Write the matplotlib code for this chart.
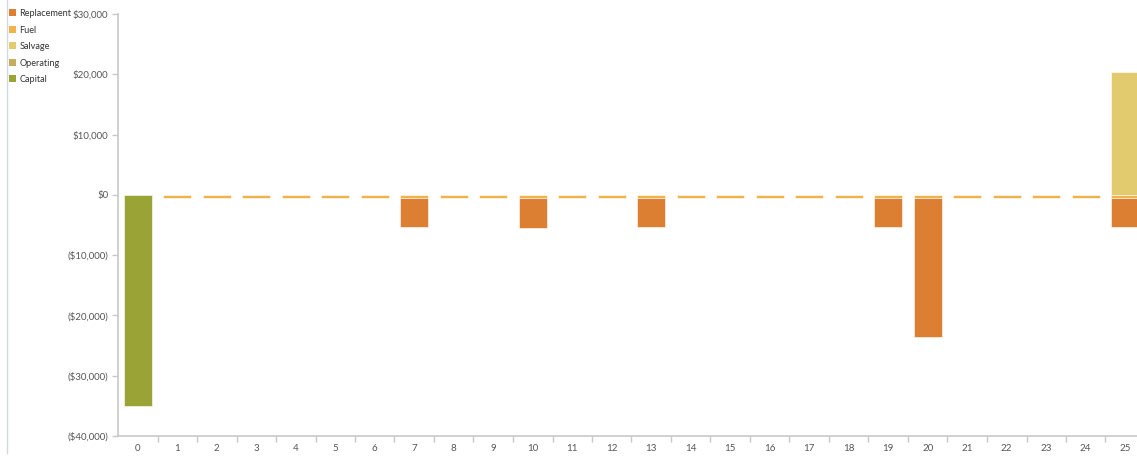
import matplotlib
matplotlib.use("Agg")
import matplotlib.pyplot as plt
import numpy as np
from matplotlib.ticker import FixedLocator, FuncFormatter
from matplotlib.lines import Line2D
from matplotlib.patches import Patch

plt.rcParams['font.family'] = ['Lato', 'DejaVu Sans']

years = list(range(26))
capital = [-35000] + [0] * 25
operating = [0] + [-100] * 25
salvage = [0] * 25 + [20400]
fuel = [0] + [-450] * 25
replacement = [0, 0, 0, 0, 0, 0, 0, -4700, 0, 0, -5000, 0, 0, -4700, 0, 0,
               0, 0, 0, -4700, -23100, 0, 0, 0, 0, -4700]

series_names = ["Capital", "Operating", "Salvage", "Fuel", "Replacement"]
series_vals = [capital, operating, salvage, fuel, replacement]
colors = {
    "Capital": "#9aa436",
    "Operating": "#c4ae5e",
    "Salvage": "#e2cb6e",
    "Fuel": "#f0b24a",
    "Replacement": "#dd7f33",
}

W, H = 1137, 457
fig = plt.figure(figsize=(W / 100, H / 100), dpi=100)
ax_left = 118 / W
ax_bottom = (H - 436) / H
ax_top = (H - 14) / H
ax_width = 26 * 39.5 / W
ax = fig.add_axes([ax_left, ax_bottom, ax_width, ax_top - ax_bottom])

x = np.array(years)
pos_base = np.zeros(len(x))
neg_base = np.zeros(len(x))
for name, vals in zip(series_names, series_vals):
    v = np.array(vals, dtype=float)
    bottoms = np.where(v >= 0, pos_base, neg_base)
    mask = v != 0
    ax.bar(x[mask], v[mask], bottom=bottoms[mask], width=0.7,
           color=colors[name], edgecolor="white", linewidth=0.4, zorder=3)
    pos_base = pos_base + np.where(v > 0, v, 0)
    neg_base = neg_base + np.where(v < 0, v, 0)

ax.set_xlim(-0.5, 25.5)
ax.set_ylim(-40000, 30000)
ax.set_yticks(np.arange(-40000, 30001, 10000))

def money(v, p):
    if v < 0:
        return "(${:,.0f})".format(-v)
    return "${:,.0f}".format(v)

ax.yaxis.set_major_formatter(FuncFormatter(money))
ax.set_xticks(years)
ax.set_xticklabels([str(y) for y in years])
ax.xaxis.set_minor_locator(FixedLocator(np.arange(0.5, 25.6, 1.0)))
ax.tick_params(axis='x', which='major', length=0, pad=6, labelsize=7, labelcolor="#555555")
ax.tick_params(axis='x', which='minor', length=4, color="#c8c8c8", width=1)
ax.tick_params(axis='y', length=4, color="#c8c8c8", width=1, labelsize=7, labelcolor="#555555", pad=3)

for s in ["top", "right"]:
    ax.spines[s].set_visible(False)
for s in ["left", "bottom"]:
    ax.spines[s].set_color("#c8c8c8")
    ax.spines[s].set_linewidth(1.2)

# legend
legend_names = ["Replacement", "Fuel", "Salvage", "Operating", "Capital"]
handles = [Patch(facecolor=colors[n], edgecolor="none") for n in legend_names]
leg = fig.legend(handles, legend_names, loc="upper left",
                 bbox_to_anchor=(9 / W, 1 - 9 / H), frameon=False,
                 fontsize=6.6, handlelength=0.8, handleheight=0.8,
                 handletextpad=0.35, labelspacing=0.82, borderaxespad=0,
                 borderpad=0)
for t in leg.get_texts():
    t.set_color("#333333")

# left divider line
fig.add_artist(Line2D([7 / W, 7 / W], [1, (H - 453) / H], transform=fig.transFigure,
                      color="#d0d8e0", linewidth=1))

fig.savefig("out.png", dpi=100)
